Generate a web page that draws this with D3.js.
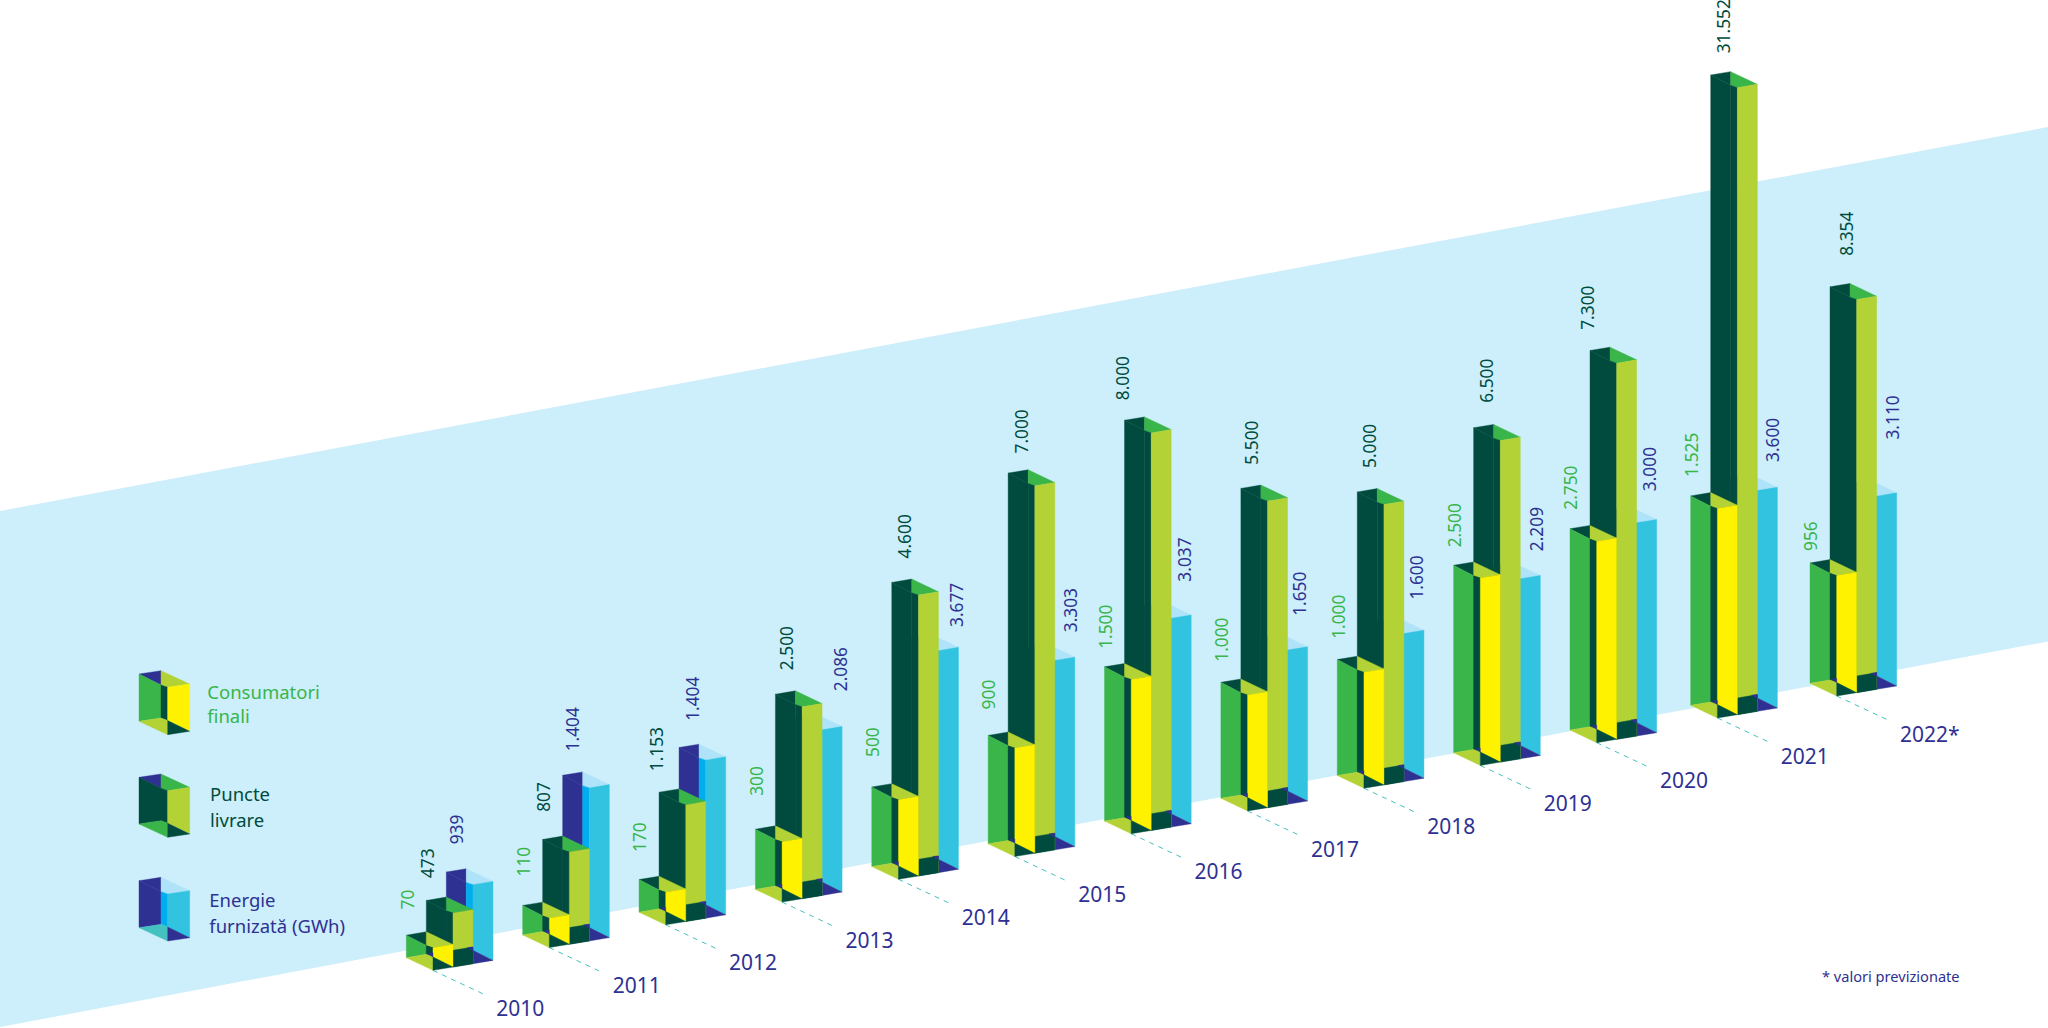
<!DOCTYPE html>
<html lang="ro">
<head>
<meta charset="utf-8">
<script src="https://cdn.jsdelivr.net/npm/d3@7"></script>
<style>
html,body{margin:0;padding:0;background:#fff;overflow:hidden}
svg{display:block}
text{font-family:"Noto Sans","Open Sans",sans-serif}
</style>
</head>
<body>
<svg id="chart" width="2048" height="1028"></svg>
<script>
// ---- data -------------------------------------------------------------
const years = ["2010","2011","2012","2013","2014","2015","2016","2017","2018","2019","2020","2021","2022*"];
const yearIndex = [2010,2011,2012,2013,2014,2015,2016,2017,2018,2019,2020,2021,2022];

// printed values
const consumers = [70,110,170,300,500,900,1500,1000,1000,2500,2750,1525,956];
const points    = [473,807,1153,2500,4600,7000,8000,5500,5000,6500,7300,31552,8354];
const energy    = [939,1404,1404,2086,3677,3303,3037,1650,1600,2209,3000,3600,3110];

// The bars of the original are not proportional to their printed values,
// so bar lengths are read off the picture too: % of the tallest bar.
const consumersBar = [3.6,4.7,5.2,9.6,12.7,17.3,24.6,18.5,18.5,29.9,32.1,33.4,19.2];
const pointsBar    = [8.6,14.7,18.6,30.6,44.8,58.6,63.4,48.9,44.7,51.3,60.0,100,62.7];
const energyBar    = [12.6,24.4,25.2,26.4,35.4,30.2,33.3,24.6,23.6,28.7,34.0,35.2,30.8];

const legendItems = [["Consumatori","finali"],["Puncte","livrare"],["Energie","furnizată (GWh)"]];
const noteText = "* valori previzionate";

// ---- layout (label nudges, not data) ------------------------------------
const consumerGap = [25.7,29,27.6,33.4,30,26,18,20.6,20.7,18,19,19,12];
const pointGap    = [22.4,27.6,21,24,24,19.6,20,23.7,24,25,20.7,21.7,31];
const pointDx     = [21,21,17.7,31.7,33,33.4,18,31.3,32,33.4,17.7,33,37];
const energyGap   = [27.7,24,26.7,26,11,15.6,24,21.6,21.3,15,19,16,44];
const energyDx    = [50.7,50.3,54,85.6,85,82.7,79.8,79.3,79.7,83,79.7,82.3,82.5];

// ---- colours ------------------------------------------------------------
const C = {bg:"#CCEFFB",dark:"#004B3D",green:"#39B54A",olive:"#B2D235",yellow:"#FFF200",
  indigo:"#2E3192",cyan:"#31C3E0",bright:"#00AEEF",pale:"#AEE3F9",teal:"#45C1C0"};

const svg = d3.select("#chart");

// ---- scales -------------------------------------------------------------
const xBase = d3.scaleLinear().domain([2010,2020,2021,2022]).range([406.3,1570,1690.7,1810]);
const yBase = d3.scaleLinear().domain([2010,2020,2021,2022]).range([957.7,730,705.3,683.3]);
const hScale = d3.scaleLinear().domain([0,100]).range([0,627]);
const fmt = d3.formatLocale({decimal:",",thousands:".",grouping:[3],currency:["",""]}).format(",d");

// background band
const bandX = d3.scaleLinear().domain([0,1]).range([0,2048]);
const bandTop = d3.scaleLinear().domain([0,1]).range([511,127]);
const bandBot = d3.scaleLinear().domain([0,1]).range([1027,641.4]);
svg.append("polygon").attr("fill",C.bg)
  .attr("points",[[bandX(0),bandTop(0)],[bandX(1),bandTop(1)],[bandX(1),bandBot(1)],[bandX(0),bandBot(0)]].join(" "));

// open-box geometry
function boxFaces(x0, yF, h, a, b, col) {
  const A=[x0,yF-h], F=[x0,yF];
  const B=[x0+a[0],A[1]+a[1]], C2=[B[0]+b[0],B[1]+b[1]];
  const D=[C2[0],C2[1]+h], E=[x0+b[0],yF+b[1]];
  const P1=[B[0],A[1]+0.82*b[1]], P2=[x0+b[0],A[1]+b[1]];
  const G=[B[0],yF+a[1]], G2=[x0+b[0],yF-0.7];
  return {E,D,faces:[
    {p:[A,B,P1],f:col.corner},
    {p:[A,P1,G,F],f:col.left},
    {p:[B,C2,P2,P1],f:col.top},
    {p:[P1,P2,G2,G],f:col.strip},
    {p:[P2,C2,D,G2],f:col.front},
    {p:[F,G,G2,E],f:col.floorL},
    {p:[G2,D,E],f:col.floorR}
  ]};
}
function drawFaces(g, faces){
  g.selectAll(null).data(faces).join("polygon")
    .attr("points",d=>d.p.map(q=>q.join(",")).join(" "))
    .attr("fill",d=>d.f).attr("stroke",d=>d.f).attr("stroke-width",0.4);
}
const styleC={corner:C.dark,left:C.green,top:C.olive,strip:C.dark,front:C.yellow,floorL:C.olive,floorR:C.dark};
const styleP={corner:C.dark,left:C.dark,top:C.green,strip:C.dark,front:C.olive,floorL:C.green,floorR:C.dark};
const styleE={corner:C.indigo,left:C.indigo,top:C.pale,strip:C.bright,front:C.cyan,floorL:C.teal,floorR:C.indigo};

const A_=[20,-3.33], B_=[26.67,12.67];
const rows = years.map((y,i)=>({i,label:y,year:yearIndex[i],x0:xBase(yearIndex[i]),yF:yBase(yearIndex[i])}));

// leader lines + year labels
const rowsG = svg.append("g");
rowsG.selectAll("line").data(rows).join("line")
  .attr("x1",d=>d.x0+B_[0]).attr("y1",d=>d.yF+B_[1])
  .attr("x2",d=>d.x0+B_[0]+53.3).attr("y2",d=>d.yF+B_[1]+25)
  .attr("stroke",C.teal).attr("stroke-width",1).attr("stroke-dasharray","5 5");
rowsG.selectAll("text").data(rows).join("text")
  .attr("x",d=>d.x0+90).attr("y",d=>d.yF+58.3)
  .attr("font-size",21).attr("fill",C.indigo).text(d=>d.label);

// bars
const groups = svg.append("g").selectAll("g").data(rows).join("g");
groups.each(function(d){
  const g=d3.select(this), i=d.i;
  const he=hScale(energyBar[i]), hp=hScale(pointsBar[i]), hc=hScale(consumersBar[i]);
  const e=boxFaces(d.x0+2*A_[0],d.yF+2*A_[1],he,A_,B_,styleE);
  drawFaces(g.append("g"),e.faces);
  const p=boxFaces(d.x0+A_[0],d.yF+A_[1],hp,A_,B_,styleP);
  drawFaces(g.append("g"),p.faces);
  // dark foot under the olive face, with its small indigo notch
  const t=16.7, foot=[
    {p:[[p.E[0],p.E[1]-t],[p.D[0],p.D[1]-t],p.D,p.E],f:C.dark},
    {p:[[p.D[0]-5.7,p.D[1]-t+0.6],[p.D[0],p.D[1]-t],[p.D[0],p.D[1]-t+4.3]],f:C.indigo}
  ];
  drawFaces(g.append("g"),foot);
  const c=boxFaces(d.x0,d.yF,hc,A_,B_,styleC);
  drawFaces(g.append("g"),c.faces);
  // small indigo sliver at foot of strip
  const gx=d.x0+A_[0], gy=d.yF+A_[1];
  drawFaces(g.append("g"),[{p:[[gx+1.5,gy-1],[gx+6.67,gy-1.5],[gx+6.67,gy+2.6]],f:C.indigo}]);

  // value labels
  const lab=[
    {t:fmt(consumers[i]),x:d.x0+1,y:d.yF-hc-consumerGap[i],c:C.green},
    {t:fmt(points[i]),x:d.x0+pointDx[i],y:d.yF+A_[1]-hp-pointGap[i],c:C.dark},
    {t:fmt(energy[i]),x:d.x0+energyDx[i],y:d.yF+2*A_[1]-he-energyGap[i],c:C.indigo}
  ];
  g.selectAll("text").data(lab).join("text")
    .attr("transform",l=>`translate(${l.x+6.3},${l.y}) rotate(-90)`)
    .attr("font-size",17.3).attr("fill",l=>l.c).text(l=>l.t);
});

// legend
const legendStyles=[
  {...styleC,corner:C.indigo},
  {...styleP,corner:C.indigo},
  styleE
];
const legendAy=[674,777.3,880.7], legendFy=[721.3,824,927.7];
const legendCol=[C.green,C.dark,C.indigo];
const legendTx=[207.3,210,209.3], legendTy=[[698.7,723],[800.7,826.7],[907.3,932.7]];
legendItems.forEach((it,k)=>{
  const g=svg.append("g");
  const b=boxFaces(139,legendFy[k],legendFy[k]-legendAy[k],[22,-3.33],[28.67,13.33],legendStyles[k]);
  drawFaces(g,b.faces);
  it.forEach((s,j)=>g.append("text").attr("x",legendTx[k]).attr("y",legendTy[k][j])
    .attr("font-size",18.5).attr("fill",legendCol[k]).text(s));
});

// note
svg.append("text").attr("x",1822).attr("y",981.5).attr("font-size",14.6).attr("fill",C.indigo).text(noteText);
</script>
</body>
</html>
